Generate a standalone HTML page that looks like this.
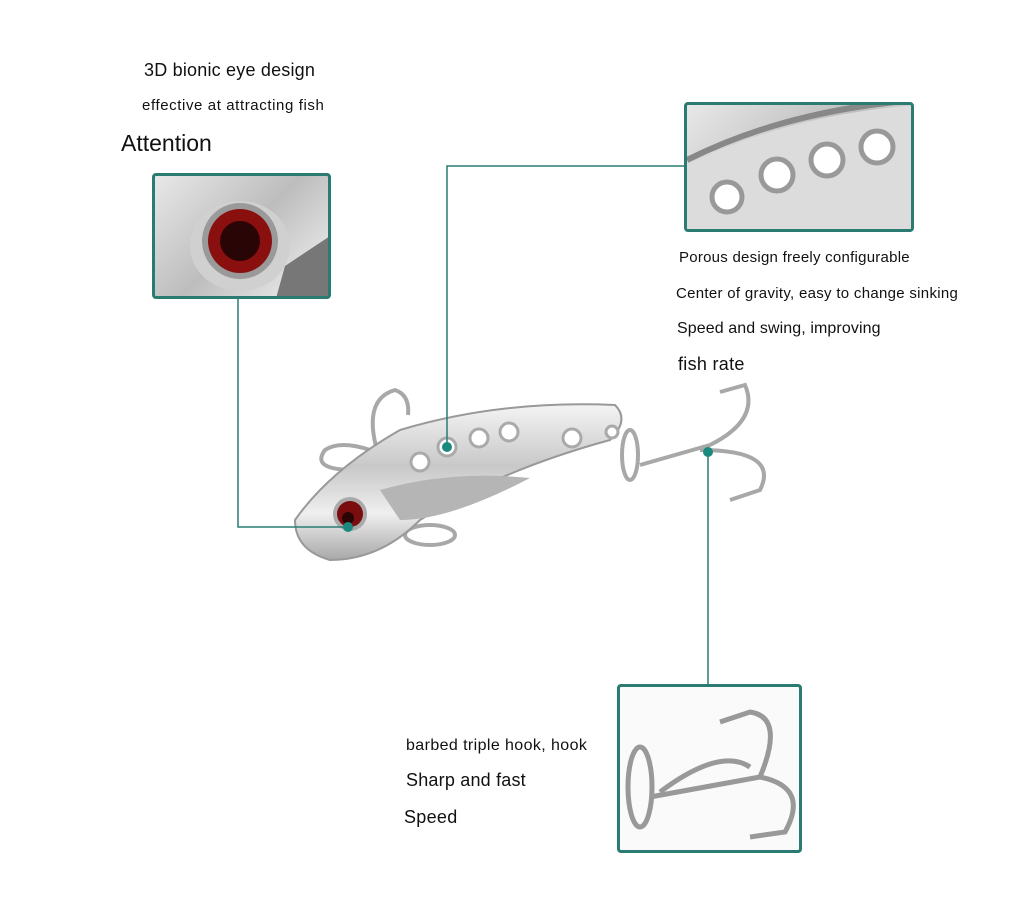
<!DOCTYPE html>
<html><head><meta charset="utf-8"><style>
body{margin:0;width:1024px;height:918px;background:#fff;position:relative;overflow:hidden;font-family:"Liberation Sans",sans-serif;color:#111}
.t{position:absolute;white-space:nowrap}
.box{position:absolute;border:3px solid #2a7c72;border-radius:4px;box-sizing:border-box;overflow:hidden;background:linear-gradient(135deg,#e8e8e8,#bdbdbd 50%,#f4f4f4)}
</style></head><body>
<div class="t" style="left:144px;top:60px;font-size:18px;letter-spacing:0.2px">3D bionic eye design</div>
<div class="t" style="left:142px;top:97px;font-size:15px;letter-spacing:0.6px">effective at attracting fish</div>
<div class="t" style="left:121px;top:130px;font-size:23px">Attention</div>
<div class="t" style="left:679px;top:249px;font-size:15px;letter-spacing:0.25px">Porous design freely configurable</div>
<div class="t" style="left:676px;top:285px;font-size:15px;letter-spacing:0.3px">Center of gravity, easy to change sinking</div>
<div class="t" style="left:677px;top:320px;font-size:16px;letter-spacing:0.1px">Speed and swing, improving</div>
<div class="t" style="left:678px;top:354px;font-size:18px;letter-spacing:0.3px">fish rate</div>
<div class="t" style="left:406px;top:737px;font-size:16px;letter-spacing:0.4px">barbed triple hook, hook</div>
<div class="t" style="left:406px;top:770px;font-size:18px;letter-spacing:0.2px">Sharp and fast</div>
<div class="t" style="left:404px;top:807px;font-size:18px;letter-spacing:0.3px">Speed</div>

<div class="box" style="left:152px;top:173px;width:179px;height:126px">
<svg width="179" height="126"><ellipse cx="85" cy="70" rx="50" ry="45" fill="#d0d0d0"/><circle cx="85" cy="65" r="38" fill="#9a9a9a"/><circle cx="85" cy="65" r="32" fill="#8a1010"/><circle cx="85" cy="65" r="20" fill="#2a0505"/><path d="M130 90 L175 60 L175 126 L120 126Z" fill="#777"/></svg></div>
<div class="box" style="left:684px;top:102px;width:230px;height:130px">
<svg width="230" height="130"><path d="M0 60 Q100 10 230 0 L230 130 L0 130Z" fill="#dcdcdc"/><path d="M0 55 Q100 5 230 -5" stroke="#888" stroke-width="6" fill="none"/>
<g fill="#fff" stroke="#999" stroke-width="5"><circle cx="40" cy="92" r="15"/><circle cx="90" cy="70" r="16"/><circle cx="140" cy="55" r="16"/><circle cx="190" cy="42" r="16"/></g></svg></div>
<div class="box" style="left:617px;top:684px;width:185px;height:169px;background:#fafafa">
<svg width="185" height="169"><g stroke="#999" stroke-width="5" fill="none"><ellipse cx="20" cy="100" rx="12" ry="40"/><path d="M30 110 L140 90"/><path d="M140 90 Q165 30 130 25 L100 35"/><path d="M140 90 Q190 100 165 145 L130 150"/><path d="M40 105 Q100 60 130 80"/></g></svg></div>

<svg width="1024" height="918" style="position:absolute;left:0;top:0">
<defs><linearGradient id="s" x1="0" y1="0" x2="0" y2="1"><stop offset="0" stop-color="#f4f4f4"/><stop offset=".4" stop-color="#c8c8c8"/><stop offset=".7" stop-color="#efefef"/><stop offset="1" stop-color="#a8a8a8"/></linearGradient></defs>
<g stroke="#a8a8a8" stroke-width="4" fill="none">
<path d="M380 460 Q360 400 395 390 Q410 395 408 415"/><path d="M355 470 Q310 470 325 450 Q340 440 370 450"/>
<path d="M640 465 L710 445 Q760 420 745 385 L720 392"/><path d="M700 450 Q780 450 760 490 L730 500"/>
<ellipse cx="630" cy="455" rx="8" ry="25"/><ellipse cx="430" cy="535" rx="25" ry="10"/></g>
<path d="M295 520 Q330 470 400 430 Q500 400 615 405 Q630 420 610 440 Q500 470 420 520 Q380 560 330 560 Q295 550 295 520Z" fill="url(#s)" stroke="#999" stroke-width="2"/>
<path d="M380 490 Q450 470 530 478 Q450 520 400 520Z" fill="#b5b5b5"/>
<g fill="#fff" stroke="#aaa" stroke-width="3"><circle cx="420" cy="462" r="9"/><circle cx="447" cy="447" r="9"/><circle cx="479" cy="438" r="9"/><circle cx="509" cy="432" r="9"/><circle cx="572" cy="438" r="9"/><circle cx="612" cy="432" r="6"/></g>
<circle cx="350" cy="514" r="17" fill="#aaa"/><circle cx="350" cy="514" r="13" fill="#7a0e0e"/><circle cx="348" cy="518" r="6" fill="#2a0505"/>
<g stroke="#2a7c72" stroke-width="1.5" fill="none"><path d="M238 299 V527 H345"/><path d="M684 166 H447 V447"/><path d="M708 452 V684"/></g>
<g fill="#1a8a80"><circle cx="348" cy="527" r="5"/><circle cx="447" cy="447" r="5"/><circle cx="708" cy="452" r="5"/></g>
</svg>
</body></html>
